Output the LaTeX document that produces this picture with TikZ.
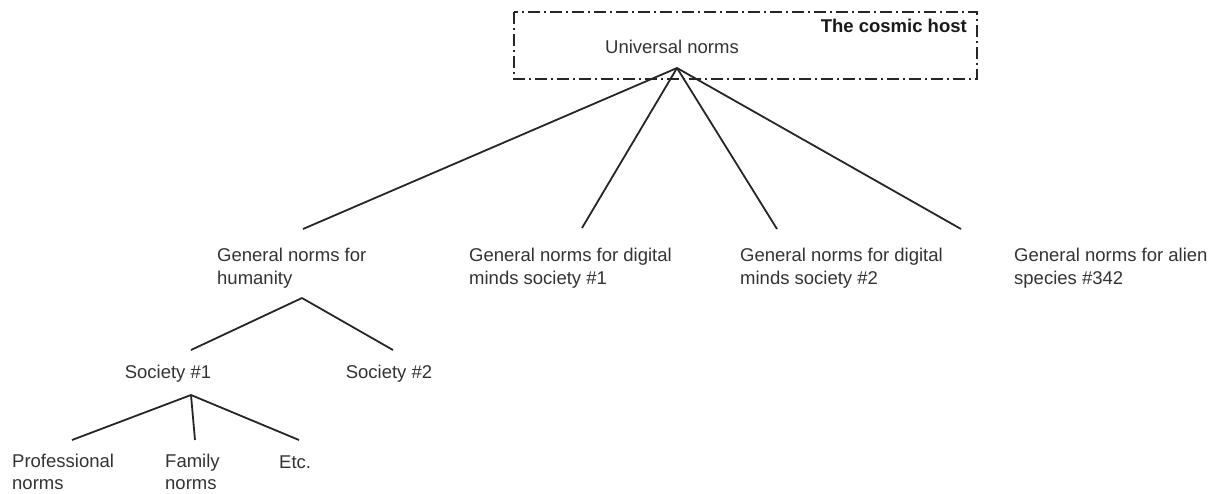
\documentclass[tikz,border=0pt]{standalone}
\usepackage{fontspec}
\setmainfont{Liberation Sans}
\begin{document}
\begin{tikzpicture}[x=1pt,y=-1pt,
  lbl/.style={inner sep=0pt, anchor=west, align=left, text=black!80,
    font=\fontsize{18.5}{22.5}\selectfont},
  edge/.style={draw=black!85, line width=1.8pt},
  hostbox/.style={draw=black!85, line width=1.6pt, dash pattern=on 12pt off 4pt on 2pt off 4pt}]
\useasboundingbox (0,0) rectangle (1229,493);
\draw[hostbox] (514,12) rectangle (977,79);
\node[lbl, anchor=east, font=\fontsize{18.5}{22.5}\selectfont\bfseries, text=black!90] (host) at (967,26) {The cosmic host};
\node[lbl, anchor=center] (univ) at (672,47) {Universal norms};
\coordinate (uapex) at (677,68);
\node[lbl] (hum) at (217,268) {General norms for\\humanity};
\node[lbl] (dig1) at (469,268) {General norms for digital\\minds society \#1};
\node[lbl] (dig2) at (740,268) {General norms for digital\\minds society \#2};
\node[lbl] (alien) at (1014,268) {General norms for alien\\species \#342};
\coordinate (humtop) at (303,229);
\coordinate (dig1top) at (582,228);
\coordinate (dig2top) at (777,229);
\coordinate (alientop) at (961,229);
\draw[edge] (uapex) -- (humtop);
\draw[edge] (uapex) -- (dig1top);
\draw[edge] (uapex) -- (dig2top);
\draw[edge] (uapex) -- (alientop);
\coordinate (humapex) at (302,298);
\node[lbl, anchor=center] (soc1) at (168,374) {Society \#1};
\node[lbl, anchor=center] (soc2) at (389,374) {Society \#2};
\coordinate (soc1top) at (191,350);
\coordinate (soc2top) at (393,350);
\draw[edge] (humapex) -- (soc1top);
\draw[edge] (humapex) -- (soc2top);
\coordinate (socapex) at (191,395);
\node[lbl, font=\fontsize{18.5}{21.5}\selectfont] (prof) at (12,472) {Professional\\norms};
\node[lbl, font=\fontsize{18.5}{21.5}\selectfont] (fam) at (165,472) {Family\\norms};
\node[lbl] (etc) at (279,462) {Etc.};
\coordinate (proftop) at (72,440);
\coordinate (famtop) at (195,440);
\coordinate (etctop) at (299,440);
\draw[edge] (socapex) -- (proftop);
\draw[edge] (socapex) -- (famtop);
\draw[edge] (socapex) -- (etctop);
\end{tikzpicture}
\end{document}
